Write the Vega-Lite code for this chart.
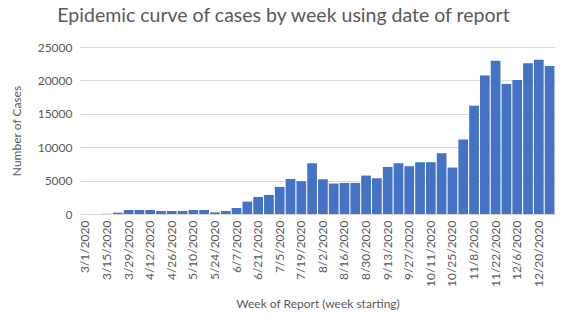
{
  "$schema": "https://vega.github.io/schema/vega-lite/v6.json",
  "autosize": {"type": "none"},
  "width": 475,
  "height": 167,
  "padding": {"left": 80, "top": 47, "right": 10, "bottom": 104},
  "background": "white",
  "title": {
    "text": "Epidemic curve of cases by week using date of report",
    "font": "Lato",
    "fontSize": 19.5,
    "fontWeight": "normal",
    "color": "#595959",
    "anchor": "middle",
    "offset": 15,
    "dx": -34,
    "frame": "group"
  },
  "config": {
    "view": {"stroke": null},
    "axis": {
      "labelFont": "Lato",
      "titleFont": "Lato",
      "labelColor": "#595959",
      "titleColor": "#595959",
      "labelFontSize": 12,
      "titleFontSize": 12,
      "titleFontWeight": "normal"
    }
  },
  "data": {
    "values": [
      {"week": "3/1/2020", "cases": 0},
      {"week": "3/8/2020", "cases": 0},
      {"week": "3/15/2020", "cases": 30},
      {"week": "3/22/2020", "cases": 200},
      {"week": "3/29/2020", "cases": 600},
      {"week": "4/5/2020", "cases": 600},
      {"week": "4/12/2020", "cases": 600},
      {"week": "4/19/2020", "cases": 450},
      {"week": "4/26/2020", "cases": 450},
      {"week": "5/3/2020", "cases": 450},
      {"week": "5/10/2020", "cases": 600},
      {"week": "5/17/2020", "cases": 600},
      {"week": "5/24/2020", "cases": 250},
      {"week": "5/31/2020", "cases": 450},
      {"week": "6/7/2020", "cases": 900},
      {"week": "6/14/2020", "cases": 1850},
      {"week": "6/21/2020", "cases": 2550},
      {"week": "6/28/2020", "cases": 2850},
      {"week": "7/5/2020", "cases": 4050},
      {"week": "7/12/2020", "cases": 5250},
      {"week": "7/19/2020", "cases": 4900},
      {"week": "7/26/2020", "cases": 7600},
      {"week": "8/2/2020", "cases": 5200},
      {"week": "8/9/2020", "cases": 4550},
      {"week": "8/16/2020", "cases": 4650},
      {"week": "8/23/2020", "cases": 4650},
      {"week": "8/30/2020", "cases": 5750},
      {"week": "9/6/2020", "cases": 5350},
      {"week": "9/13/2020", "cases": 7050},
      {"week": "9/20/2020", "cases": 7600},
      {"week": "9/27/2020", "cases": 7150},
      {"week": "10/4/2020", "cases": 7750},
      {"week": "10/11/2020", "cases": 7750},
      {"week": "10/18/2020", "cases": 9100},
      {"week": "10/25/2020", "cases": 6950},
      {"week": "11/1/2020", "cases": 11150},
      {"week": "11/8/2020", "cases": 16200},
      {"week": "11/15/2020", "cases": 20750},
      {"week": "11/22/2020", "cases": 22950},
      {"week": "11/29/2020", "cases": 19450},
      {"week": "12/6/2020", "cases": 20050},
      {"week": "12/13/2020", "cases": 22550},
      {"week": "12/20/2020", "cases": 23100},
      {"week": "12/27/2020", "cases": 22150}
    ]
  },
  "mark": {"type": "bar", "color": "#4472C4"},
  "encoding": {
    "x": {
      "field": "week",
      "type": "ordinal",
      "sort": null,
      "scale": {"paddingInner": 0.1, "paddingOuter": 0.05},
      "axis": {
        "title": "Week of Report (week starting)",
        "labelAngle": 270,
        "labelPadding": 6,
        "ticks": false,
        "domainColor": "#d9d9d9",
        "titlePadding": 12,
        "values": ["3/1/2020", "3/15/2020", "3/29/2020", "4/12/2020", "4/26/2020", "5/10/2020", "5/24/2020", "6/7/2020", "6/21/2020", "7/5/2020", "7/19/2020", "8/2/2020", "8/16/2020", "8/30/2020", "9/13/2020", "9/27/2020", "10/11/2020", "10/25/2020", "11/8/2020", "11/22/2020", "12/6/2020", "12/20/2020"]
      }
    },
    "y": {
      "field": "cases",
      "type": "quantitative",
      "scale": {"domain": [0, 25000]},
      "axis": {
        "title": "Number of Cases",
        "values": [0, 5000, 10000, 15000, 20000, 25000],
        "format": "d",
        "domain": false,
        "ticks": false,
        "labelPadding": 8,
        "gridColor": "#d9d9d9",
        "titlePadding": 14
      }
    }
  }
}
